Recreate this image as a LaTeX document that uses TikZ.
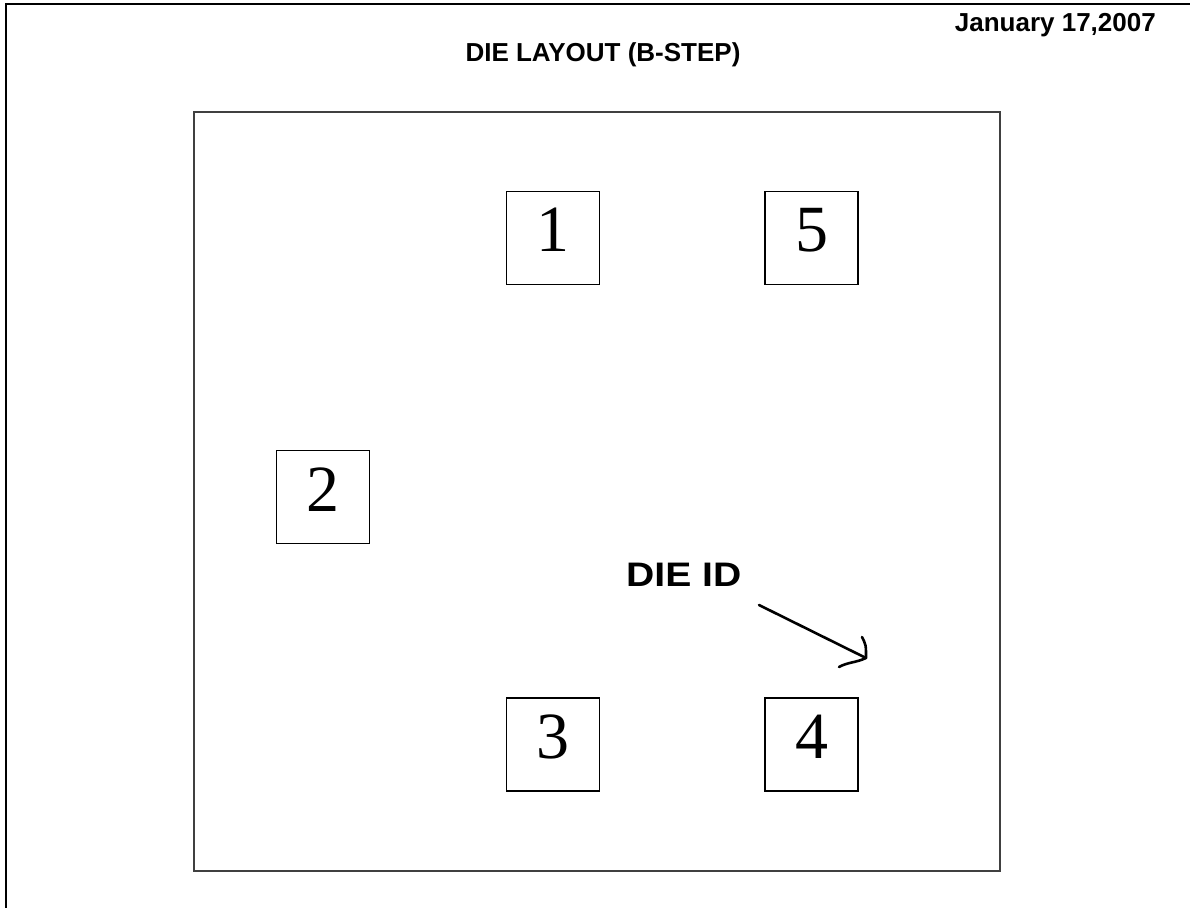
\documentclass[tikz,border=0pt]{standalone}
\usepackage{fontspec}
\setmainfont{Liberation Serif}
\newfontfamily\arialfont{Liberation Sans}
\usetikzlibrary{arrows.meta}
\begin{document}
\begin{tikzpicture}[x=1pt,y=-1pt,
  die/.style={draw=black,line width=1.7pt,minimum width=93pt,minimum height=93pt,inner sep=0pt},
  digit/.style={font=\fontsize{66}{66}\selectfont,inner sep=0pt},
  lab/.style={font=\arialfont\bfseries\fontsize{26}{30}\selectfont,inner sep=0pt},
  pen/.style={line width=2.6pt,line cap=round,line join=round}]
\useasboundingbox (0,0) rectangle (1190,907);
\fill[white] (0,0) rectangle (1190,907);
\draw[line width=2pt] (6,920) -- (6,4) -- (1200,4);
\node[draw=black!75,line width=2pt,minimum width=806pt,minimum height=759pt,inner sep=0pt] (wafer) at (597,491.5) {};
\node[die] (d1) at (553,238) {};
\node[die] (d5) at (811.5,238) {};
\node[die] (d2) at (323,497) {};
\node[die] (d3) at (553,744.5) {};
\node[die] (d4) at (811.5,744.5) {};
\node[digit] (n1) at ([yshift=8pt]d1.center) {1};
\node[digit] (n5) at ([yshift=8pt]d5.center) {5};
\node[digit] (n2) at ([yshift=7pt]d2.center) {2};
\node[digit] (n3) at ([yshift=8pt]d3.center) {3};
\node[digit] (n4) at ([yshift=8pt]d4.center) {4};
\node[lab,anchor=base] (title) at (603,62) {DIE LAYOUT (B-STEP)};
\node[lab,anchor=base east] (date) at (1156,32) {January 17,2007};
\node[font=\arialfont\bfseries\fontsize{34}{38}\selectfont,inner sep=0pt,anchor=base west] (dieid) at (626,586) {\scalebox{1.15}[1]{DIE ID}};
\coordinate (a0) at (759,605);
\coordinate (a1) at (866,658);
\draw[pen] (a0) -- (a1);
\draw[pen] (862,637) .. controls (866,645) .. (866,658) .. controls (855,663) and (848,662) .. (839,667);
\end{tikzpicture}
\end{document}
